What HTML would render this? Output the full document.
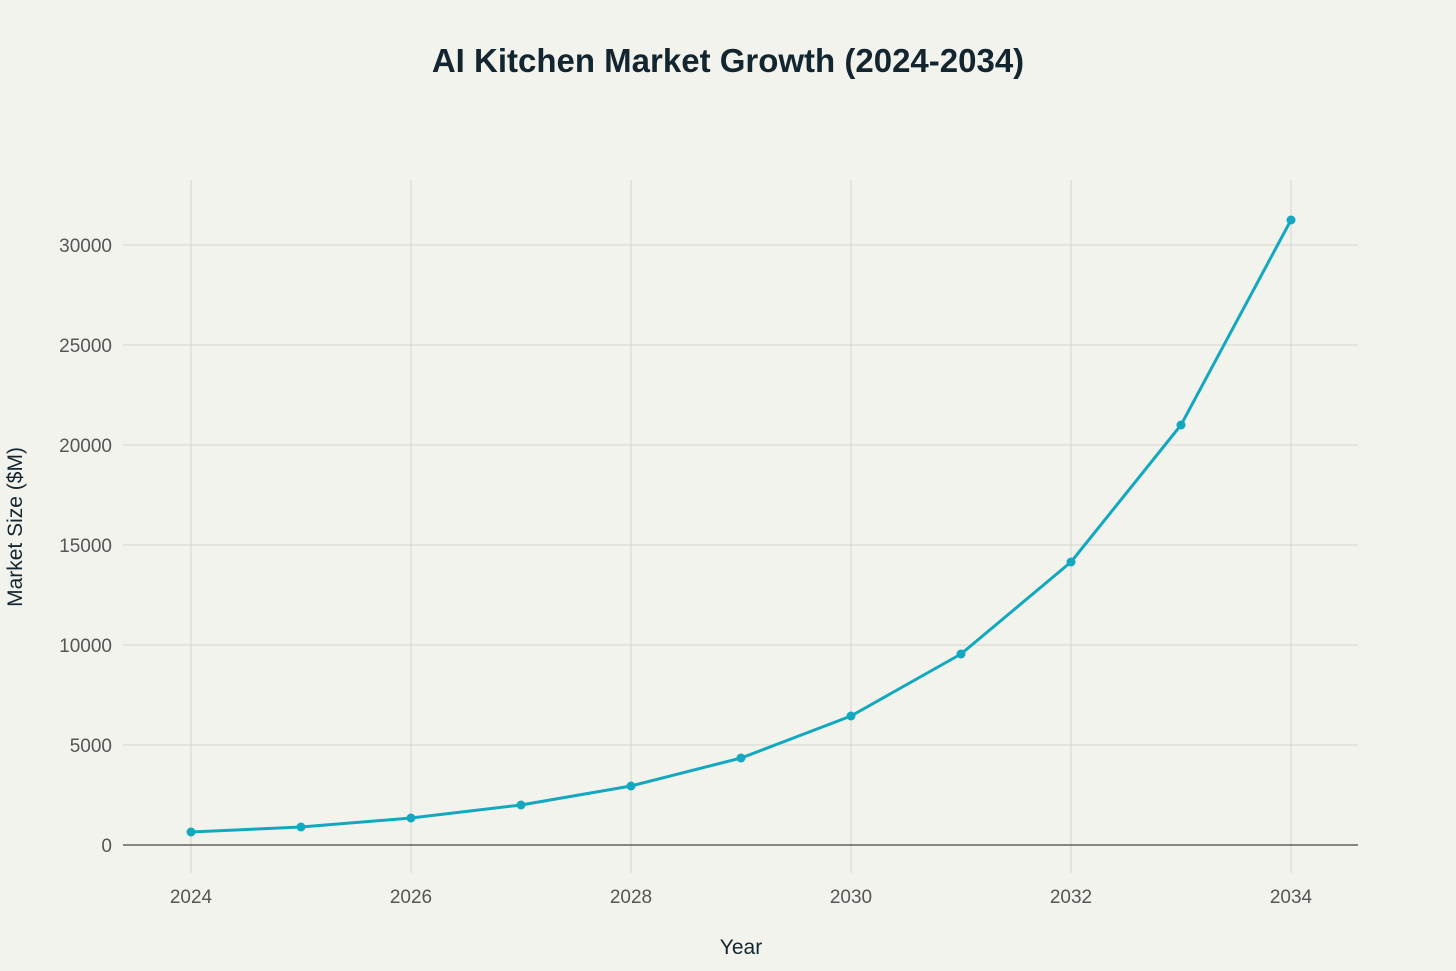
<!DOCTYPE html>
<html><head><meta charset="utf-8"><style>
html,body{margin:0;padding:0;background:#f3f3ee;}
svg{display:block;font-family:"Liberation Sans",sans-serif;}
</style></head><body>
<svg id="chart" width="1456" height="971">
<rect width="1456" height="971" fill="#f3f3ee"/>
<text x="728" y="72" text-anchor="middle" font-size="33" font-weight="bold" fill="#13262f">AI Kitchen Market Growth (2024-2034)</text>
<g id="grid"></g>
<g id="axes"></g>
<g id="series"></g>
<text x="741" y="954" text-anchor="middle" font-size="21" fill="#13262f">Year</text>
<text transform="translate(22,527) rotate(-90)" text-anchor="middle" font-size="21" fill="#13262f">Market Size ($M)</text>
</svg>
<script>
const years=[2024,2025,2026,2027,2028,2029,2030,2031,2032,2033,2034];
const values=[650,900,1350,2000,2950,4350,6450,9550,14150,21000,31250];
const yTicks=[0,5000,10000,15000,20000,25000,30000];
const xTicks=[2024,2026,2028,2030,2032,2034];
const NS="http://www.w3.org/2000/svg";
const x=v=>191+(v-2024)*110;
const y=v=>845-v*0.02;
function mk(t,a,p){const e=document.createElementNS(NS,t);for(const k in a)e.setAttribute(k,a[k]);p.appendChild(e);return e;}
const grid=document.getElementById('grid'),axes=document.getElementById('axes'),series=document.getElementById('series');
yTicks.forEach(v=>{
 if(v!==0){const l=mk('line',{x1:123,x2:1358,y1:y(v),y2:y(v),stroke:'#d4d4cf','stroke-width':1},grid);
 
 }
 const t=mk('text',{x:112,y:y(v)+7,'text-anchor':'end','font-size':19,fill:'#555'},axes);t.textContent=v;
 
 
});
xTicks.forEach(v=>{
 const l=mk('line',{x1:x(v),x2:x(v),y1:180,y2:873,stroke:'#d4d4cf','stroke-width':1},grid);
 
 
 const t=mk('text',{x:x(v),y:903,'text-anchor':'middle','font-size':19,fill:'#555'},axes);t.textContent=v;
 
 
});
const zl=mk('line',{x1:123,x2:1358,y1:y(0),y2:y(0),stroke:'#444','stroke-width':1.2},axes);


const pl=mk('polyline',{points:years.map((yr,i)=>x(yr)+','+y(values[i])).join(' '),fill:'none',stroke:'#13a8bf','stroke-width':3,'stroke-linejoin':'round'},series);


years.forEach((yr,i)=>{
 const c=mk('circle',{cx:x(yr),cy:y(values[i]),r:4.5,fill:'#13a8bf'},series);
 
 
});
</script>
</body></html>
